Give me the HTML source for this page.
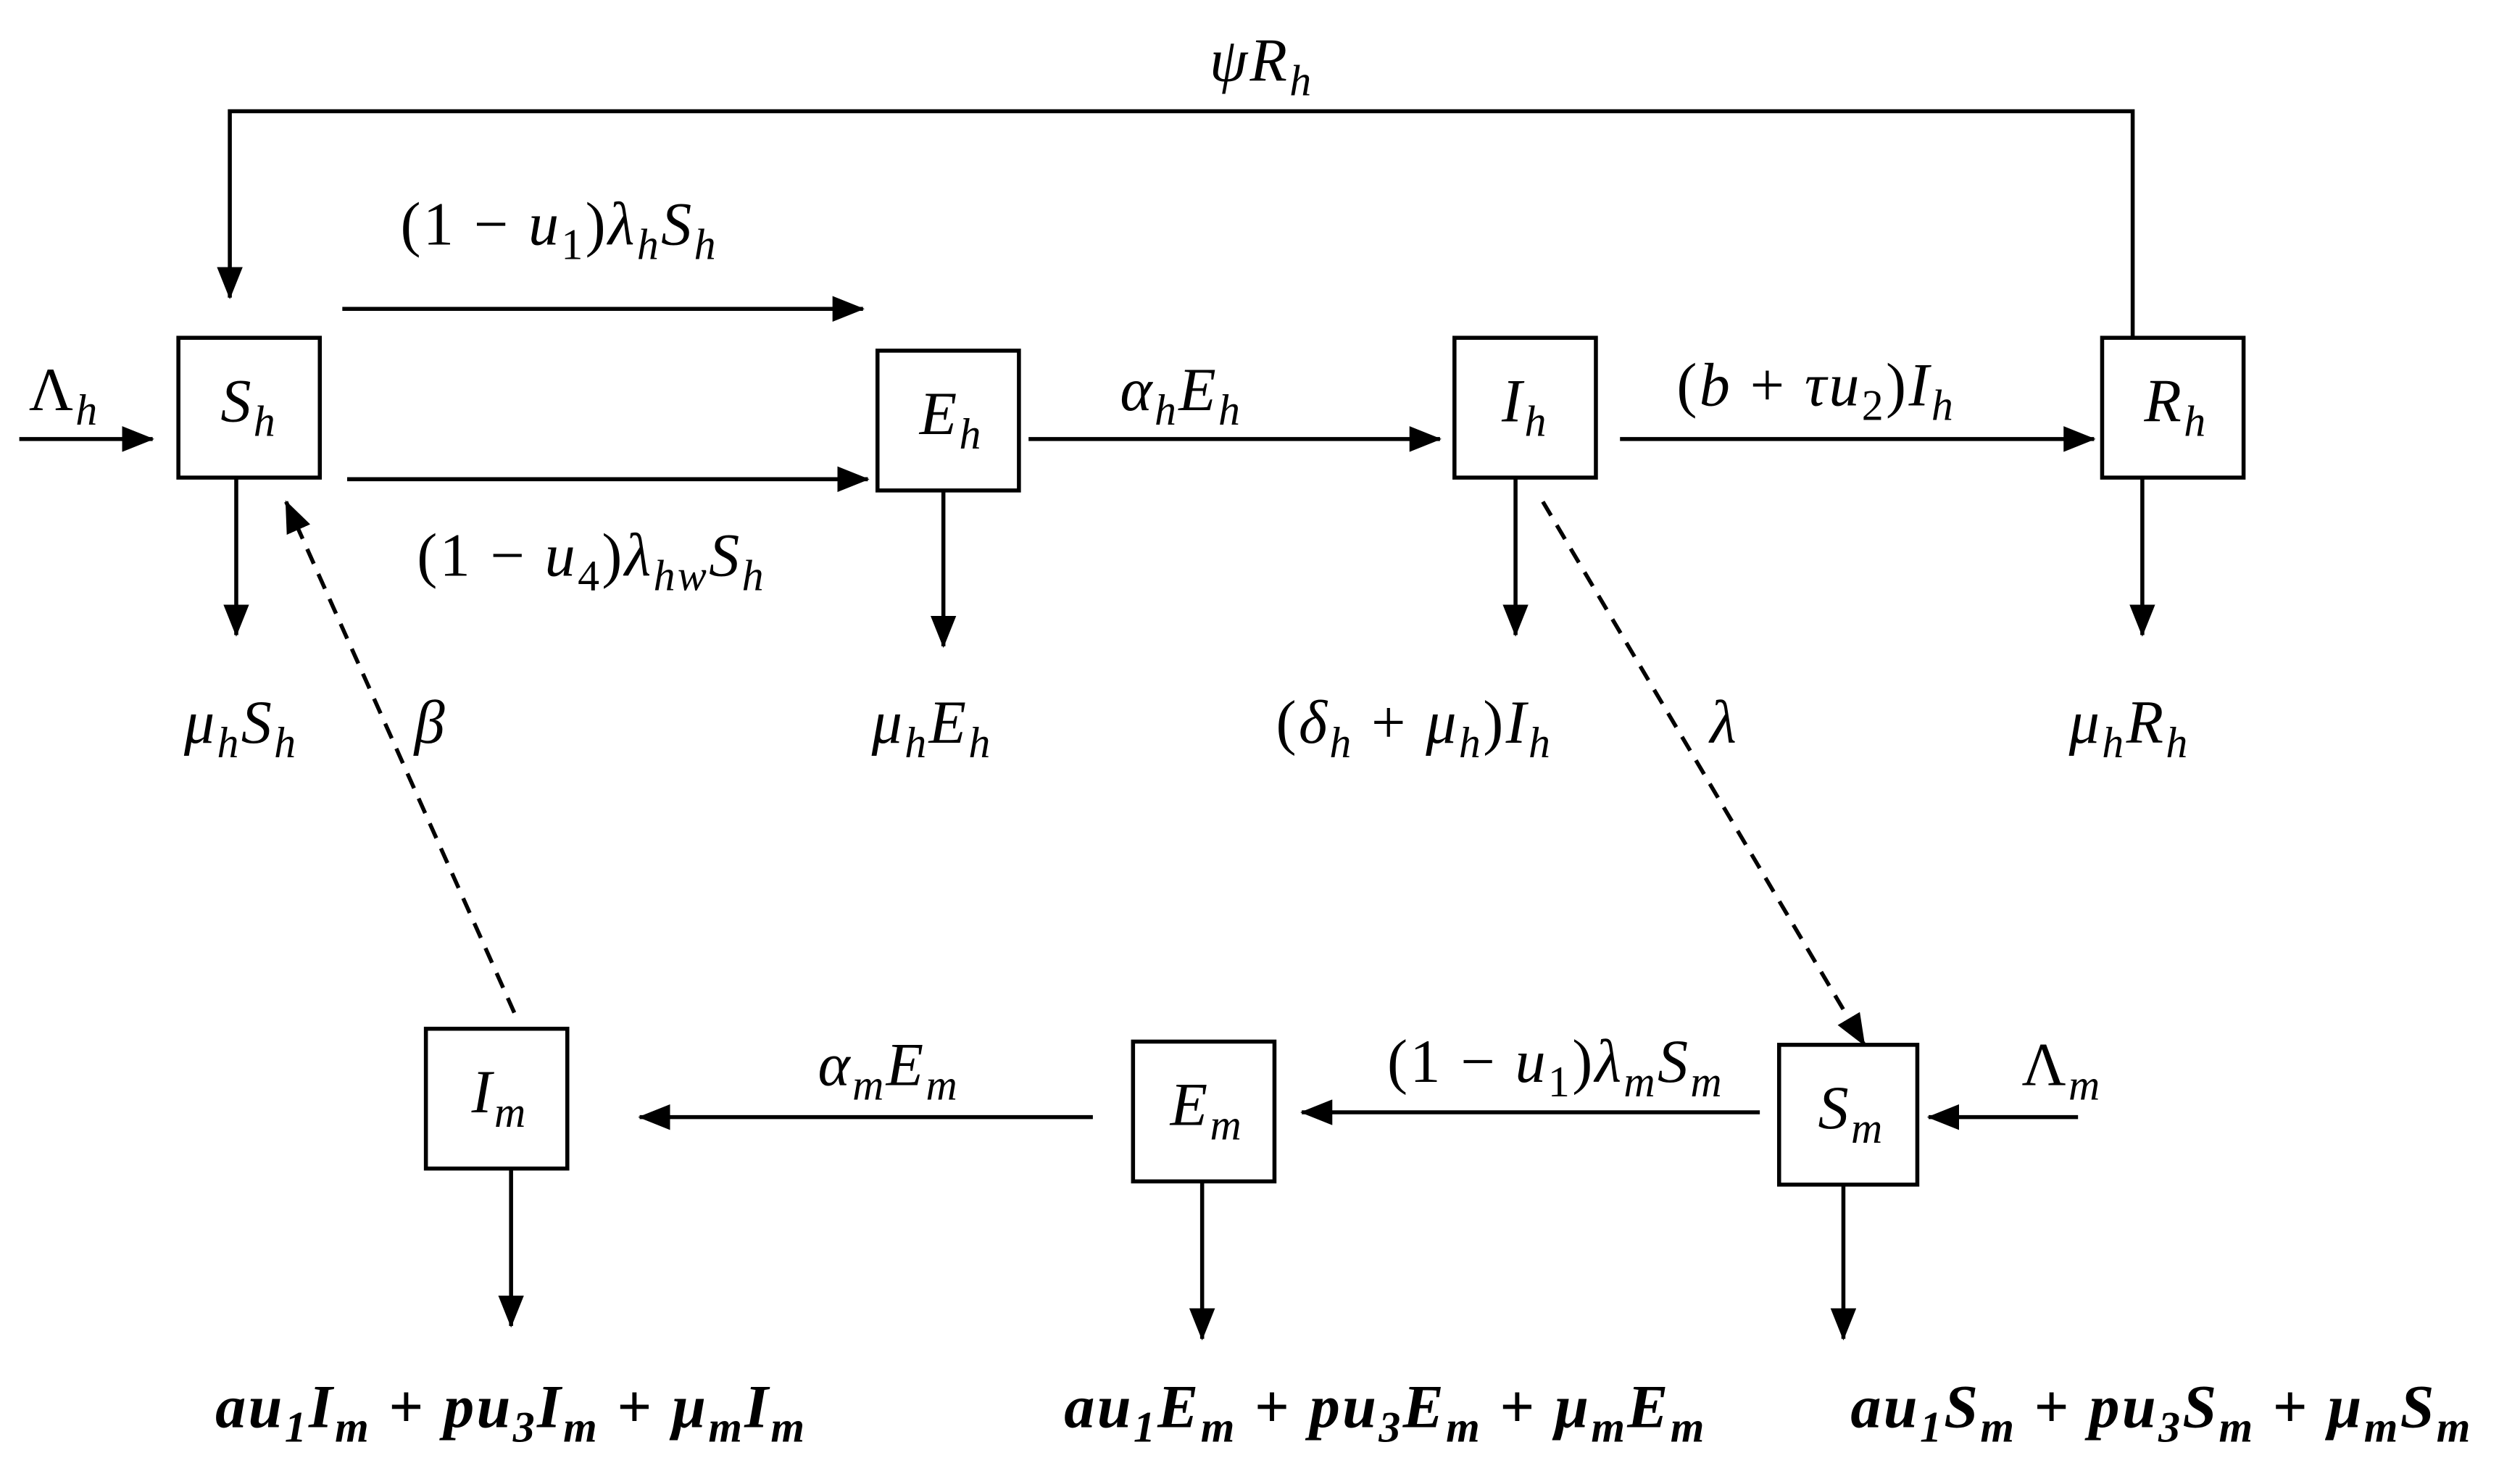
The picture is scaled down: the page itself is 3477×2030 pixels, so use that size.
<!DOCTYPE html>
<html><head><meta charset="utf-8"><style>
html,body{margin:0;padding:0;background:#fff;}
svg{display:block;}
text{font-family:"Liberation Serif",serif;font-style:italic;font-size:38px;letter-spacing:1.5px;fill:#000;}
.up{font-style:normal;}
.b{font-weight:bold;}
</style></head><body>
<svg width="3477" height="2030" viewBox="0 0 1568 915" xmlns="http://www.w3.org/2000/svg">
<defs>
<marker id="ar" viewBox="0 0 20 16" refX="19" refY="8" markerWidth="20" markerHeight="16" orient="auto" markerUnits="userSpaceOnUse"><path d="M0,0 L20,8 L0,16 z" fill="#000"/></marker>
</defs>
<g fill="none" stroke="#000" stroke-width="2.5">
<rect x="111" y="210" width="88" height="87"/>
<rect x="546" y="218" width="88" height="87"/>
<rect x="905" y="210" width="88" height="87"/>
<rect x="1308" y="210" width="88" height="87"/>
<rect x="265" y="640" width="88" height="87"/>
<rect x="705" y="648" width="88" height="87"/>
<rect x="1107" y="650" width="86" height="87"/>
<polyline points="1327,210 1327,69 143,69 143,185" marker-end="url(#ar)"/>
<line x1="12" y1="273" x2="95" y2="273" marker-end="url(#ar)"/>
<line x1="213" y1="192" x2="537" y2="192" marker-end="url(#ar)"/>
<line x1="216" y1="298" x2="540" y2="298" marker-end="url(#ar)"/>
<line x1="147" y1="297" x2="147" y2="395" marker-end="url(#ar)"/>
<line x1="587" y1="305" x2="587" y2="402" marker-end="url(#ar)"/>
<line x1="640" y1="273" x2="896" y2="273" marker-end="url(#ar)"/>
<line x1="943" y1="297" x2="943" y2="395" marker-end="url(#ar)"/>
<line x1="1008" y1="273" x2="1303" y2="273" marker-end="url(#ar)"/>
<line x1="1333" y1="297" x2="1333" y2="395" marker-end="url(#ar)"/>
<line x1="960" y1="312" x2="1160" y2="650" stroke-dasharray="10,7" marker-end="url(#ar)"/>
<line x1="320" y1="630" x2="178" y2="312" stroke-dasharray="10,7" marker-end="url(#ar)"/>
<line x1="318" y1="727" x2="318" y2="825" marker-end="url(#ar)"/>
<line x1="748" y1="735" x2="748" y2="833" marker-end="url(#ar)"/>
<line x1="1147" y1="737" x2="1147" y2="833" marker-end="url(#ar)"/>
<line x1="1095" y1="692" x2="810" y2="692" marker-end="url(#ar)"/>
<line x1="680" y1="695" x2="398" y2="695" marker-end="url(#ar)"/>
<line x1="1293" y1="695" x2="1200" y2="695" marker-end="url(#ar)"/>
</g>
<g text-anchor="middle">
<text x="155" y="262">S<tspan font-size="27" dy="9">h</tspan></text>
<text x="592" y="270">E<tspan font-size="27" dy="9">h</tspan></text>
<text x="949" y="262">I<tspan font-size="27" dy="9">h</tspan></text>
<text x="1354" y="262">R<tspan font-size="27" dy="9">h</tspan></text>
<text x="311" y="692">I<tspan font-size="27" dy="9">m</tspan></text>
<text x="751" y="700">E<tspan font-size="27" dy="9">m</tspan></text>
<text x="1152" y="702">S<tspan font-size="27" dy="9">m</tspan></text>

<text x="785" y="50">ψR<tspan font-size="27" dy="9">h</tspan></text>
<text x="40" y="255"><tspan class="up">Λ</tspan><tspan font-size="27" dy="9">h</tspan></text>
<text x="348" y="152"><tspan class="up">(1 − </tspan>u<tspan font-size="27" dy="9" class="up">1</tspan><tspan dy="-9" class="up">)</tspan>λ<tspan font-size="27" dy="9">h</tspan><tspan dy="-9">S</tspan><tspan font-size="27" dy="9">h</tspan></text>
<text x="368" y="358"><tspan class="up">(1 − </tspan>u<tspan font-size="27" dy="9" class="up">4</tspan><tspan dy="-9" class="up">)</tspan>λ<tspan font-size="27" dy="9">hw</tspan><tspan dy="-9">S</tspan><tspan font-size="27" dy="9">h</tspan></text>
<text x="150" y="462">μ<tspan font-size="27" dy="9">h</tspan><tspan dy="-9">S</tspan><tspan font-size="27" dy="9">h</tspan></text>
<text x="268" y="462">β</text>
<text x="580" y="462">μ<tspan font-size="27" dy="9">h</tspan><tspan dy="-9">E</tspan><tspan font-size="27" dy="9">h</tspan></text>
<text x="735" y="255">α<tspan font-size="27" dy="9">h</tspan><tspan dy="-9">E</tspan><tspan font-size="27" dy="9">h</tspan></text>
<text x="880" y="462"><tspan class="up">(</tspan>δ<tspan font-size="27" dy="9">h</tspan><tspan dy="-9" class="up"> + </tspan>μ<tspan font-size="27" dy="9">h</tspan><tspan dy="-9" class="up">)</tspan>I<tspan font-size="27" dy="9">h</tspan></text>
<text x="1130" y="252"><tspan class="up">(</tspan>b<tspan class="up"> + </tspan>τu<tspan font-size="27" dy="9" class="up">2</tspan><tspan dy="-9" class="up">)</tspan>I<tspan font-size="27" dy="9">h</tspan></text>
<text x="1073" y="462">λ</text>
<text x="1325" y="462">μ<tspan font-size="27" dy="9">h</tspan><tspan dy="-9">R</tspan><tspan font-size="27" dy="9">h</tspan></text>
<text x="968" y="673"><tspan class="up">(1 − </tspan>u<tspan font-size="27" dy="9" class="up">1</tspan><tspan dy="-9" class="up">)</tspan>λ<tspan font-size="27" dy="9">m</tspan><tspan dy="-9">S</tspan><tspan font-size="27" dy="9">m</tspan></text>
<text x="553" y="675">α<tspan font-size="27" dy="9">m</tspan><tspan dy="-9">E</tspan><tspan font-size="27" dy="9">m</tspan></text>
<text x="1283" y="675"><tspan class="up">Λ</tspan><tspan font-size="27" dy="9">m</tspan></text>
<text class="b" x="318" y="888">au<tspan font-size="27" dy="9">1</tspan><tspan dy="-9">I</tspan><tspan font-size="27" dy="9">m</tspan><tspan dy="-9" class="up"> + </tspan>pu<tspan font-size="27" dy="9">3</tspan><tspan dy="-9">I</tspan><tspan font-size="27" dy="9">m</tspan><tspan dy="-9" class="up"> + </tspan>μ<tspan font-size="27" dy="9">m</tspan><tspan dy="-9">I</tspan><tspan font-size="27" dy="9">m</tspan></text>
<text class="b" x="862" y="888">au<tspan font-size="27" dy="9">1</tspan><tspan dy="-9">E</tspan><tspan font-size="27" dy="9">m</tspan><tspan dy="-9" class="up"> + </tspan>pu<tspan font-size="27" dy="9">3</tspan><tspan dy="-9">E</tspan><tspan font-size="27" dy="9">m</tspan><tspan dy="-9" class="up"> + </tspan>μ<tspan font-size="27" dy="9">m</tspan><tspan dy="-9">E</tspan><tspan font-size="27" dy="9">m</tspan></text>
<text class="b" x="1345" y="888">au<tspan font-size="27" dy="9">1</tspan><tspan dy="-9">S</tspan><tspan font-size="27" dy="9">m</tspan><tspan dy="-9" class="up"> + </tspan>pu<tspan font-size="27" dy="9">3</tspan><tspan dy="-9">S</tspan><tspan font-size="27" dy="9">m</tspan><tspan dy="-9" class="up"> + </tspan>μ<tspan font-size="27" dy="9">m</tspan><tspan dy="-9">S</tspan><tspan font-size="27" dy="9">m</tspan></text>
</g>
</svg>
</body></html>
